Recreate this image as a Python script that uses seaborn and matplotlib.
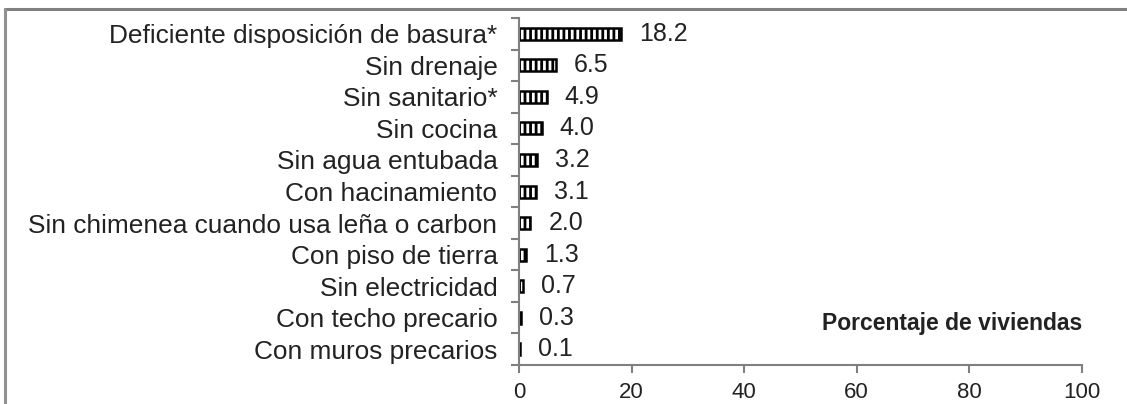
import matplotlib
matplotlib.use("Agg")
import matplotlib.pyplot as plt
from matplotlib.lines import Line2D
from matplotlib.ticker import FixedLocator
import seaborn as sns
import pandas as pd

categorias = [
    "Deficiente disposición de basura*",
    "Sin drenaje",
    "Sin sanitario*",
    "Sin cocina",
    "Sin agua entubada",
    "Con hacinamiento",
    "Sin chimenea cuando usa leña o carbon",
    "Con piso de tierra",
    "Sin electricidad",
    "Con techo precario",
    "Con muros precarios",
]
porcentajes = [18.2, 6.5, 4.9, 4.0, 3.2, 3.1, 2.0, 1.3, 0.7, 0.3, 0.1]
ticks_x = [0, 20, 40, 60, 80, 100]

df = pd.DataFrame({"categoria": categorias, "porcentaje": porcentajes})

sns.set_theme(style="white")
plt.rcParams["font.family"] = ["Liberation Sans", "DejaVu Sans"]
plt.rcParams["hatch.linewidth"] = 2.0
plt.rcParams["hatch.color"] = "black"

fig = plt.figure(figsize=(11.27, 4.04), dpi=100)
ax = fig.add_axes([0.4605, 0.0965, 0.4995, 0.8589])

sns.barplot(data=df, x="porcentaje", y="categoria", order=categorias,
            orient="h", color="white", edgecolor="black", linewidth=1.8,
            width=0.38, ax=ax)
for p in ax.patches:
    p.set_hatch("|||")
    p.set_facecolor("white")

# value labels to the right of each bar
for i, v in enumerate(porcentajes):
    ax.annotate(f"{v:.1f}", xy=(v, i), xytext=(13, 0), textcoords="offset points",
                ha="left", va="center", fontsize=18, color="#222222")

ax.set_xlim(0, 100)
ax.set_ylim(len(categorias) - 0.5, -0.5)
ax.set_xticks(ticks_x)
ax.set_xticklabels([str(t) for t in ticks_x])
ax.set_xlabel("")
ax.set_ylabel("")

# category tick marks sit between bars
ax.yaxis.set_minor_locator(FixedLocator([i - 0.5 for i in range(len(categorias) + 1)]))
ax.tick_params(axis="y", which="major", length=0, labelsize=18.9, labelcolor="#222222", pad=15.5)
ax.tick_params(axis="y", which="minor", left=True, length=6, width=1.5, color="#808080", direction="out")
ax.tick_params(axis="x", which="major", bottom=True, length=6, width=1.5, color="#808080",
               direction="out", labelsize=16, labelcolor="#222222", pad=6)

for s in ["top", "right"]:
    ax.spines[s].set_visible(False)
for s in ["left", "bottom"]:
    ax.spines[s].set_color("#808080")
    ax.spines[s].set_linewidth(1.5)

ax.text(1.0, 0.12, "Porcentaje de viviendas", transform=ax.transAxes,
        ha="right", va="center", fontsize=16.5, fontweight="bold", color="#222222")

# outer frame lines
fig.add_artist(Line2D([0.0044, 1.0], [0.978, 0.978], transform=fig.transFigure,
                      color="#808080", linewidth=2.2))
fig.add_artist(Line2D([0.0044, 0.0044], [0.0, 0.978], transform=fig.transFigure,
                      color="#909090", linewidth=2.2))

fig.savefig("out.png", dpi=100)
